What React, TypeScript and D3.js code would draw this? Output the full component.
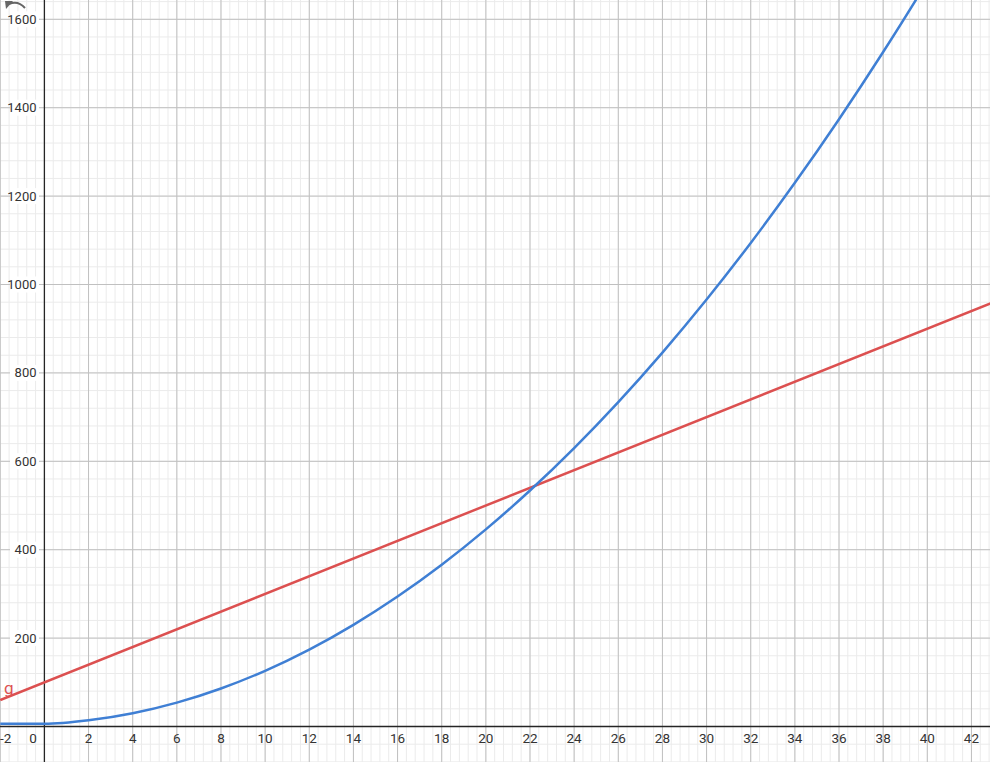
import * as d3 from "d3";

const W = 990;
const H = 762;

// blue curve f at even x
const fX = [-2, 0, 2, 4, 6, 8, 10, 12, 14, 16, 18, 20, 22, 24, 26, 28, 30, 32, 34, 36, 38, 40, 42];
const fY = [6, 6, 14, 30, 54, 86, 126, 174, 230, 294, 366, 446, 534, 630, 734, 846, 966, 1094, 1230, 1374, 1526, 1686, 1856];

// red line g
const gX = [-2, 44];
const gY = [60, 980];

const xTicks = [2, 4, 6, 8, 10, 12, 14, 16, 18, 20, 22, 24, 26, 28, 30, 32, 34, 36, 38, 40, 42];
const yTicks = [200, 400, 600, 800, 1000, 1200, 1400, 1600];

export default function App() {
  const x = d3.scaleLinear().domain([0, 40]).range([44.4, 927.3]);
  const y = d3.scaleLinear().domain([0, 1600]).range([726.5, 19.3]);

  const xMin = x.invert(0);
  const xMax = x.invert(W);
  const yMin = y.invert(H);
  const yMax = y.invert(0);

  const minorX = d3.range(Math.ceil(xMin / 0.4) * 0.4, xMax, 0.4);
  const minorY = d3.range(Math.ceil(yMin / 40) * 40, yMax, 40);
  const majorX = d3.range(Math.ceil(xMin / 2) * 2, xMax, 2).filter((v) => Math.abs(v) > 1e-6);
  const majorY = d3.range(Math.ceil(yMin / 200) * 200, yMax, 200).filter((v) => Math.abs(v) > 1e-6);

  const fLine = d3
    .line<number>()
    .x((_, i) => x(fX[i]))
    .y((d) => y(d))
    .curve(d3.curveMonotoneX);
  const gLine = d3
    .line<number>()
    .x((_, i) => x(gX[i]))
    .y((d) => y(d));

  const font = "Roboto, 'Noto Sans', sans-serif";

  return (
    <>
      <style>{`body{margin:0;overflow:hidden}`}</style>
      <svg width={W} height={H} style={{ display: "block", background: "#fff" }}>
        <g>
          {minorX.map((v, i) => (
            <line key={"mx" + i} x1={x(v)} x2={x(v)} y1={0} y2={H} stroke="#ebebeb" strokeWidth={1} />
          ))}
          {minorY.map((v, i) => (
            <line key={"my" + i} x1={0} x2={W} y1={y(v)} y2={y(v)} stroke="#ebebeb" strokeWidth={1} />
          ))}
          {majorX.map((v, i) => (
            <line key={"Mx" + i} x1={x(v)} x2={x(v)} y1={0} y2={H} stroke="#c0c0c0" strokeWidth={1} />
          ))}
          {majorY.map((v, i) => (
            <line key={"My" + i} x1={0} x2={W} y1={y(v)} y2={y(v)} stroke="#c0c0c0" strokeWidth={1} />
          ))}
        </g>
        <line x1={x(0)} x2={x(0)} y1={0} y2={H} stroke="#252525" strokeWidth={1.3} />
        <line x1={0} x2={W} y1={y(0)} y2={y(0)} stroke="#252525" strokeWidth={1.3} />

        <path d={gLine(gY) ?? ""} fill="none" stroke="#dc5050" strokeWidth={2.5} />
        <path d={fLine(fY) ?? ""} fill="none" stroke="#3f7fd4" strokeWidth={2.5} />

        <text x={4} y={694} fill="#dc5050" fontFamily={font} fontSize={17}>
          g
        </text>

        {yTicks.map((v) => (
          <g key={"yt" + v}>
            <rect x={10} y={y(v) - 8} width={29} height={16} fill="#fff" />
            <text
              x={36.5}
              y={y(v)}
              dy="0.35em"
              textAnchor="end"
              fill="#333"
              fontFamily={font}
              fontSize={13}
            >
              {v}
            </text>
          </g>
        ))}
        {xTicks.map((v) => (
          <text
            key={"xt" + v}
            x={x(v)}
            y={743}
            textAnchor="middle"
            fill="#333"
            fontFamily={font}
            fontSize={13.5}
          >
            {v}
          </text>
        ))}
        <text x={0} y={743} textAnchor="start" fill="#333" fontFamily={font} fontSize={13.5}>
          -2
        </text>
        <text x={33} y={743} textAnchor="middle" fill="#333" fontFamily={font} fontSize={13.5}>
          0
        </text>

        {/* undo icon */}
        <path d="M9 4 Q18 0 25 8" fill="none" stroke="#666" strokeWidth={2} />
        <path d="M5 1 L13 1 L6 9 Z" fill="#666" />
      </svg>
    </>
  );
}
